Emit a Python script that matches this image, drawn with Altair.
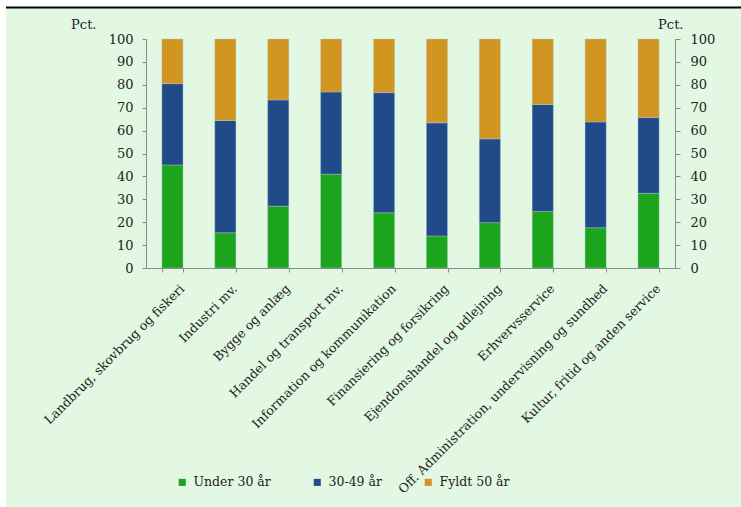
import altair as alt
import pandas as pd

categories = [
    "Landbrug, skovbrug og fiskeri",
    "Industri mv.",
    "Bygge og anlæg",
    "Handel og transport mv.",
    "Information og kommunikation",
    "Finansiering og forsikring",
    "Ejendomshandel og udlejning",
    "Erhvervsservice",
    "Off. Administration, undervisning og sundhed",
    "Kultur, fritid og anden service",
]
under_30 = [45.0, 15.4, 27.0, 41.0, 24.1, 14.0, 19.8, 24.7, 17.6, 32.6]
age_30_49 = [35.5, 49.0, 46.4, 35.9, 52.5, 49.4, 36.6, 46.7, 46.2, 33.1]
over_50 = [19.5, 35.6, 26.6, 23.1, 23.4, 36.6, 43.6, 28.6, 36.2, 34.3]
series = ["Under 30 år", "30-49 år", "Fyldt 50 år"]
colors = ["#1CA51C", "#214A89", "#D09621"]
y_ticks = list(range(0, 101, 10))

rows = []
for i, c in enumerate(categories):
    for k, vals in enumerate([under_30, age_30_49, over_50]):
        rows.append({"Branche": c, "Gruppe": series[k], "Pct": vals[i], "ord": k})
df = pd.DataFrame(rows)

FONT = "DejaVu Serif"
AX = "#8a8a8a"
TXT = "#222222"

x_enc = alt.X(
    "Branche:N", sort=categories,
    scale=alt.Scale(paddingInner=0.6, paddingOuter=0.3),
    axis=alt.Axis(title=None, labelAngle=-45, labelAlign="right", labelBaseline="top",
                  labelPadding=10, labelOffset=5, tickBand="extent", tickSize=4,
                  domainColor=AX, tickColor=AX,
                  labelFont=FONT, labelFontSize=12.5, labelColor=TXT, labelLimit=400, zindex=1),
)

def y_enc(orient, title_x, label_pad, tick_size):
    return alt.Y(
        "Pct:Q", stack="zero",
        scale=alt.Scale(domain=[0, 100], nice=False),
        axis=alt.Axis(orient=orient, values=y_ticks, title="Pct.", titleAngle=0,
                      titleX=title_x, titleY=-15, titleAlign="right", titleBaseline="middle",
                      titleFont=FONT, titleFontSize=13, titleFontWeight="normal", titleColor=TXT,
                      grid=False, tickSize=tick_size, labelPadding=label_pad,
                      domainColor=AX, tickColor=AX, labelFont=FONT, labelFontSize=13,
                      labelColor=TXT, zindex=1),
    )

bg = alt.Chart(pd.DataFrame({"a": [0]})).mark_rect(color="#E3F8E3").encode(
    x=alt.value(-140), x2=alt.value(595), y=alt.value(-31), y2=alt.value(468)
)
top_line = alt.Chart(pd.DataFrame({"a": [0]})).mark_rule(color="black", strokeWidth=2).encode(
    x=alt.value(-140), x2=alt.value(595), y=alt.value(-31.5)
)

bars = alt.Chart(df).mark_bar(stroke="#b8c8d8", strokeWidth=0.4).encode(
    x=x_enc,
    y=y_enc("left", -50, 9, 4),
    color=alt.Color("Gruppe:N", scale=alt.Scale(domain=series, range=colors),
                    legend=alt.Legend(orient="none", legendX=30, legendY=437,
                                      direction="horizontal", title=None, symbolType="square",
                                      symbolSize=50, symbolStrokeWidth=0, labelFont=FONT,
                                      labelFontSize=12.5, labelColor=TXT, columnPadding=40,
                                      labelOffset=5)),
    order=alt.Order("ord:Q"),
)

bars_right = alt.Chart(df).mark_bar(opacity=0).encode(
    x=x_enc,
    y=y_enc("right", 8, 10, 5),
    order=alt.Order("ord:Q"),
)

chart = alt.layer(bg, top_line, bars, bars_right).resolve_axis(y="independent").properties(
    width=529, height=229,
    padding={"left": 146, "top": 39, "right": 66, "bottom": 239},
    autosize="none",
).configure_view(stroke=None).configure(background="white")

chart.save("out.html", embed_options={"renderer": "svg", "actions": False})
